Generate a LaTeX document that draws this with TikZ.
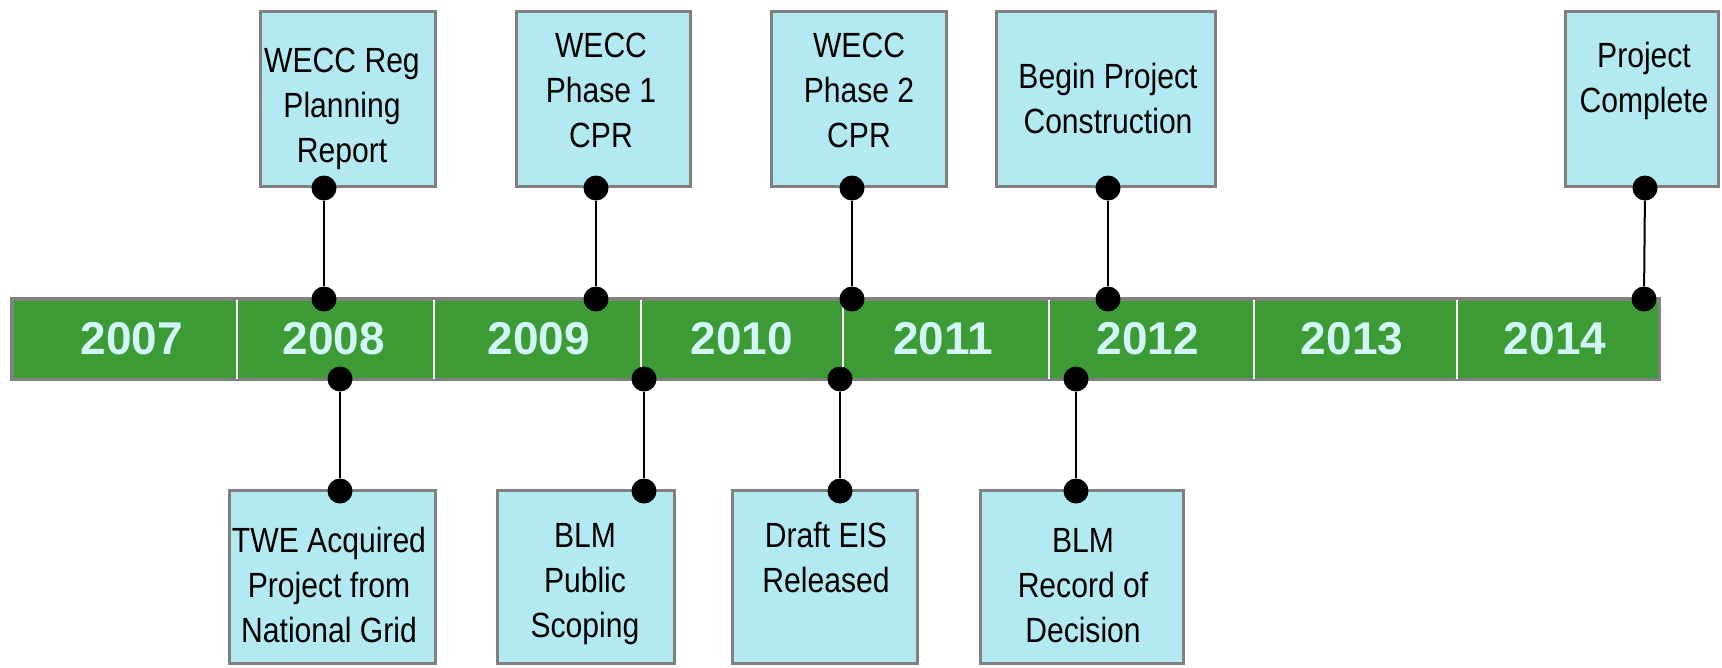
\documentclass[tikz,border=0pt]{standalone}
\usepackage{fontspec}
\setmainfont{Liberation Sans}
\newfontfamily\boxfont[FakeStretch=0.86]{Liberation Sans}
\definecolor{bargreen}{HTML}{3D9B35}
\definecolor{boxfill}{HTML}{B3EAF1}
\definecolor{yeartext}{HTML}{D2F6F6}
\definecolor{edgegray}{HTML}{808080}
\newcommand{\evlines}[1]{\begin{tabular}[t]{@{}c@{}}#1\end{tabular}}
\tikzset{
  evbox/.style={draw=edgegray, line width=3pt, fill=boxfill, rectangle, inner sep=0pt},
  evtext/.style={inner sep=0pt, anchor=base, font=\boxfont\fontsize{35}{45}\selectfont},
  yr/.style={inner sep=0pt, anchor=base, font=\bfseries\fontsize{46}{52}\selectfont, text=yeartext},
  pin/.style={circle, fill=black, minimum size=25pt, inner sep=0pt},
  link/.style={line width=2pt, black},
  divider/.style={white, line width=1.5pt}
}
\begin{document}
\begin{tikzpicture}[x=1pt,y=-1pt]
\useasboundingbox (0,0) rectangle (1722,667);
% event boxes (top)
\node[evbox, minimum width=175pt, minimum height=175pt] (b1) at (348,99) {};
\node[evbox, minimum width=174pt, minimum height=175pt] (b2) at (603.5,99) {};
\node[evbox, minimum width=175pt, minimum height=175pt] (b3) at (859,99) {};
\node[evbox, minimum width=219pt, minimum height=175pt] (b4) at (1106,99) {};
\node[evbox, minimum width=153pt, minimum height=175pt] (b5) at (1642,99) {};
% event boxes (bottom)
\node[evbox, minimum width=206pt, minimum height=173pt] (c1) at (332.5,577) {};
\node[evbox, minimum width=177pt, minimum height=173pt] (c2) at (586,577) {};
\node[evbox, minimum width=185pt, minimum height=173pt] (c3) at (825,577) {};
\node[evbox, minimum width=203pt, minimum height=173pt] (c4) at (1082,577) {};
% texts
\node[evtext] (tb1) at (342,72) {\evlines{WECC Reg\\Planning\\Report}};
\node[evtext] (tb2) at (601,57) {\evlines{WECC\\Phase 1\\CPR}};
\node[evtext] (tb3) at (859,57) {\evlines{WECC\\Phase 2\\CPR}};
\node[evtext] (tb4) at (1108,88) {\evlines{Begin Project\\Construction}};
\node[evtext] (tb5) at (1644,67) {\evlines{Project\\Complete}};
\node[evtext] (tc1) at (329,552) {\evlines{TWE Acquired\\Project from\\National Grid}};
\node[evtext] (tc2) at (585,547) {\evlines{BLM\\Public\\Scoping}};
\node[evtext] (tc3) at (826,547) {\evlines{Draft EIS\\Released}};
\node[evtext] (tc4) at (1083,552) {\evlines{BLM\\Record of\\Decision}};
% timeline bar
\node[draw=edgegray, line width=3.5pt, fill=bargreen, rectangle, inner sep=0pt,
      minimum width=1647.5pt, minimum height=80.5pt] (bar) at (835.5,339) {};
\foreach \dx in {237,434,641,843,1049,1254,1457}
  \draw[divider] (\dx,299.5) -- (\dx,378.5);
\node[yr] (y2007) at (132,354) {2007};
\node[yr] (y2008) at (334,354) {2008};
\node[yr] (y2009) at (539,354) {2009};
\node[yr] (y2010) at (742,354) {2010};
\node[yr] (y2011) at (943,354) {2011};
\node[yr] (y2012) at (1148,354) {2012};
\node[yr] (y2013) at (1352,354) {2013};
\node[yr] (y2014) at (1555,354) {2014};
% pins
\node[pin] (p1a) at (324,188) {};  \node[pin] (p1b) at (324,299) {};
\node[pin] (p2a) at (596,188) {};  \node[pin] (p2b) at (596,299) {};
\node[pin] (p3a) at (852,188) {};  \node[pin] (p3b) at (852,299) {};
\node[pin] (p4a) at (1108,188) {}; \node[pin] (p4b) at (1108,299) {};
\node[pin] (p5a) at (1645,188) {}; \node[pin] (p5b) at (1644,299) {};
\node[pin] (q1a) at (340,379) {};  \node[pin] (q1b) at (340,491) {};
\node[pin] (q2a) at (644,379) {};  \node[pin] (q2b) at (644,491) {};
\node[pin] (q3a) at (840,379) {};  \node[pin] (q3b) at (840,491) {};
\node[pin] (q4a) at (1076,379) {}; \node[pin] (q4b) at (1076,491) {};
% connectors
\draw[link] (p1a) -- (p1b);
\draw[link] (p2a) -- (p2b);
\draw[link] (p3a) -- (p3b);
\draw[link] (p4a) -- (p4b);
\draw[link] (p5a) -- (p5b);
\draw[link] (q1a) -- (q1b);
\draw[link] (q2a) -- (q2b);
\draw[link] (q3a) -- (q3b);
\draw[link] (q4a) -- (q4b);
\end{tikzpicture}
\end{document}
